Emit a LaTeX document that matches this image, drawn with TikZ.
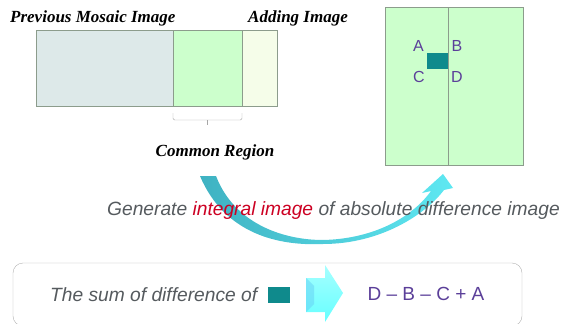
\documentclass[tikz,border=0pt]{standalone}
\usepackage{fontspec}
\setmainfont{Liberation Serif}
\setsansfont{Liberation Sans}
\usetikzlibrary{calc, positioning, shapes}

\definecolor{mosaicgray}{HTML}{DDE9E9}
\definecolor{commongreen}{HTML}{CCFFCC}
\definecolor{addpale}{HTML}{F5FDE9}
\definecolor{framegray}{HTML}{8C9C8C}
\definecolor{blockteal}{HTML}{0F8A8C}
\definecolor{cornerpurple}{HTML}{5B3F99}
\definecolor{textgray}{HTML}{555A5E}
\definecolor{markred}{HTML}{CC0022}
\definecolor{arrowteal}{HTML}{3FB2C2}
\definecolor{arrowcyan}{HTML}{5EE8F2}

\tikzset{
  hdr/.style={font=\fontsize{17}{19}\selectfont\bfseries\itshape, inner sep=0pt},
  corner/.style={font=\sffamily\fontsize{16}{18}\selectfont, text=cornerpurple, inner sep=0pt},
  note/.style={font=\sffamily\itshape\fontsize{19.2}{22}\selectfont, text=textgray, inner sep=0pt},
}

\begin{document}
\begin{tikzpicture}[x=1pt,y=-1pt]
\useasboundingbox (0,0) rectangle (565,324);
% strip: previous mosaic / common / adding
\draw[framegray, fill=mosaicgray] (36,30) rectangle (173,106);
\draw[framegray, fill=commongreen] (173,30) rectangle (242,106);
\draw[framegray, fill=addpale] (242,30) rectangle (277,106);
\draw[gray!70, rounded corners=1.5pt] (173,113) -- (173,120) -- (242,120) -- (242,113);
\draw[gray!70] (207.5,120) -- (207.5,125);
\node[hdr, anchor=west] (prev) at (10,18) {Previous Mosaic Image};
\node[hdr, anchor=west] (add) at (248,18) {Adding Image};
\node[hdr] (common) at (215,152) {Common Region};
% integral image
\draw[framegray, fill=commongreen] (385,7) rectangle (523,165);
\draw[framegray] (448,7) -- (448,165);
\fill[blockteal] (427,53) rectangle (448,69);
\node[corner] (A) at (418.5,46) {A};
\node[corner] (B) at (457,46) {B};
\node[corner] (C) at (419,76.5) {C};
\node[corner] (D) at (457,76.5) {D};
% curved arrow
\shade[left color=arrowteal, middle color=cyan!8, right color=arrowcyan]
  (200,176) .. controls (225,235) and (280,246) .. (323,244)
  .. controls (380,244) and (425,215) .. (444,190) -- (453,188) -- (443,174)
  -- (422,193) -- (431,191) .. controls (410,220) and (370,239) .. (323,240)
  .. controls (285,240) and (235,225) .. (216,176) -- cycle;
\node[note, anchor=west] (gen) at (107,211) {Generate \textcolor{markred}{integral image} of absolute difference image};
% bottom box
\draw[gray!60, rounded corners=10pt] (13,263) rectangle (522,326);
\node[note, anchor=west] (sum) at (50,295) {The sum of difference of};
\node[fill=blockteal, minimum width=22pt, minimum height=16pt, inner sep=0pt] (blk) at (279,295) {};
\shade[top color=cyan!35!white, bottom color=cyan!60!white]
  (306,278) -- (325,278) -- (325,265) -- (343,293) -- (325,322) -- (325,312) -- (306,312) -- cycle;
\fill[cyan!60!white, opacity=.5] (306,278) -- (314,286) -- (314,304) -- (306,312) -- cycle;
\node[corner, font=\sffamily\fontsize{19}{21}\selectfont] (formula) at (426,294) {D \textendash{} B \textendash{} C + A};
\end{tikzpicture}
\end{document}
